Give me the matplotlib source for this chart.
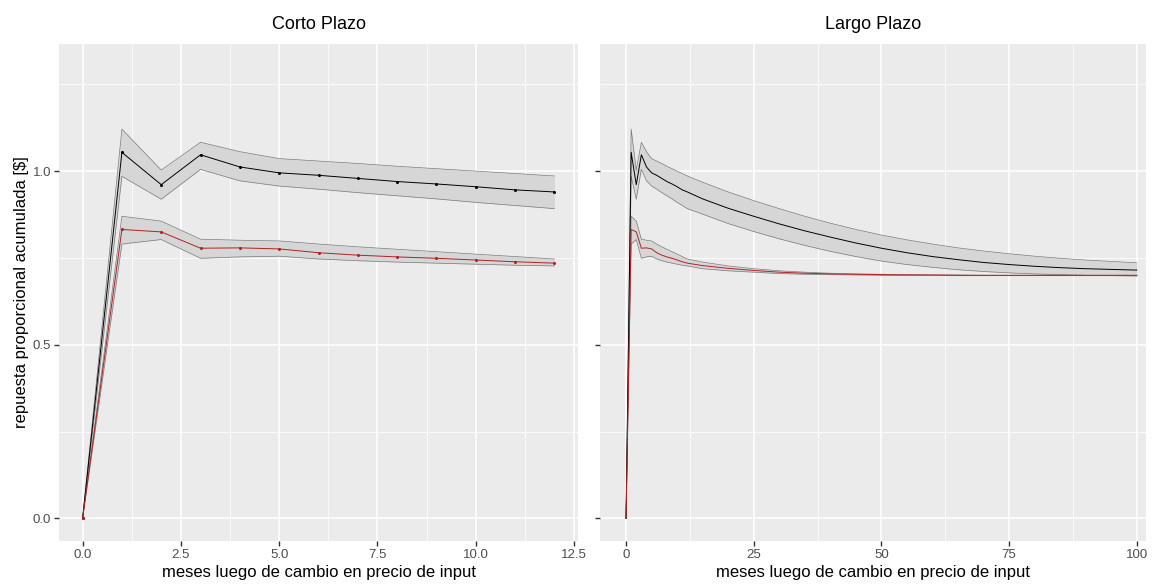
import matplotlib
matplotlib.use("Agg")
import matplotlib.pyplot as plt
from matplotlib.ticker import FixedLocator

plt.rcParams['font.family'] = ['Liberation Sans', 'DejaVu Sans']

# ---- Short-term panel data (monthly 0..12) ----
months_short = [0, 1, 2, 3, 4, 5, 6, 7, 8, 9, 10, 11, 12]
black_mid_s = [0.0, 1.054, 0.961, 1.047, 1.012, 0.995, 0.988, 0.979, 0.970, 0.963, 0.955, 0.946, 0.940]
black_hi_s = [0.0, 1.121, 1.003, 1.083, 1.056, 1.036, 1.029, 1.022, 1.014, 1.007, 1.000, 0.993, 0.986]
black_lo_s = [0.0, 0.985, 0.919, 1.005, 0.972, 0.957, 0.948, 0.938, 0.929, 0.920, 0.910, 0.901, 0.892]
red_mid_s = [0.0, 0.832, 0.825, 0.778, 0.779, 0.776, 0.765, 0.758, 0.753, 0.749, 0.744, 0.739, 0.735]
red_hi_s = [0.0, 0.870, 0.856, 0.804, 0.801, 0.799, 0.790, 0.782, 0.775, 0.768, 0.761, 0.754, 0.747]
red_lo_s = [0.0, 0.790, 0.803, 0.749, 0.753, 0.755, 0.747, 0.742, 0.738, 0.735, 0.732, 0.729, 0.727]

# ---- Long-term panel data (extension beyond month 12) ----
months_long_ext = [15, 20, 25, 30, 35, 40, 45, 50, 55, 60, 65, 70, 75, 80, 85, 90, 95, 100]
black_mid_ext = [0.920, 0.893, 0.870, 0.848, 0.828, 0.810, 0.793, 0.778, 0.765, 0.754, 0.745, 0.737, 0.731, 0.726, 0.722, 0.719, 0.717, 0.715]
black_hi_ext = [0.968, 0.940, 0.915, 0.892, 0.870, 0.850, 0.832, 0.816, 0.802, 0.790, 0.779, 0.770, 0.762, 0.755, 0.749, 0.744, 0.740, 0.736]
black_lo_ext = [0.876, 0.849, 0.826, 0.805, 0.786, 0.769, 0.754, 0.741, 0.731, 0.723, 0.716, 0.711, 0.707, 0.704, 0.702, 0.700, 0.699, 0.698]
red_mid_ext = [0.728, 0.720, 0.714, 0.709, 0.706, 0.704, 0.703, 0.702, 0.701, 0.701, 0.700, 0.700, 0.700, 0.700, 0.700, 0.700, 0.700, 0.700]
red_hi_ext = [0.738, 0.727, 0.719, 0.713, 0.709, 0.706, 0.704, 0.703, 0.702, 0.701, 0.701, 0.700, 0.700, 0.700, 0.700, 0.700, 0.700, 0.700]
red_lo_ext = [0.719, 0.713, 0.709, 0.705, 0.703, 0.702, 0.701, 0.700, 0.700, 0.700, 0.699, 0.699, 0.699, 0.699, 0.699, 0.699, 0.699, 0.699]

titles = ["Corto Plazo", "Largo Plazo"]
xlabel = "meses luego de cambio en precio de input"
ylabel = "repuesta proporcional acumulada [$]"

months_long = months_short + months_long_ext
black_mid_l = black_mid_s + black_mid_ext
black_hi_l = black_hi_s + black_hi_ext
black_lo_l = black_lo_s + black_lo_ext
red_mid_l = red_mid_s + red_mid_ext
red_hi_l = red_hi_s + red_hi_ext
red_lo_l = red_lo_s + red_lo_ext

W, H = 1155, 586
fig = plt.figure(figsize=(W / 100, H / 100), dpi=100)
fig.patch.set_facecolor('white')

def px_axes(x0, x1, y0, y1):
    return fig.add_axes([x0 / W, 1 - y1 / H, (x1 - x0) / W, (y1 - y0) / H])

ax1 = px_axes(59, 578, 44, 541)
ax2 = px_axes(600, 1146, 44, 541)

BG = '#EBEBEB'
RIB = '#D6D6D6'
EDGE = '#7A7A7A'
RED = '#B22222'

def style(ax, xmaj, xmin, xlim, labels_y):
    ax.set_facecolor(BG)
    for s in ax.spines.values():
        s.set_visible(False)
    ax.set_xlim(*xlim)
    ax.set_ylim(-0.065, 1.366)
    ax.xaxis.set_major_locator(FixedLocator(xmaj))
    ax.xaxis.set_minor_locator(FixedLocator(xmin))
    ax.yaxis.set_major_locator(FixedLocator([0.0, 0.5, 1.0]))
    ax.yaxis.set_minor_locator(FixedLocator([0.25, 0.75, 1.25]))
    ax.grid(which='major', color='white', linewidth=1.1)
    ax.grid(which='minor', color='white', linewidth=0.55)
    ax.set_axisbelow(True)
    ax.tick_params(which='major', length=3.5, width=1.0, color='#333333',
                   labelcolor='#4D4D4D', labelsize=9.5, pad=2)
    ax.tick_params(which='minor', length=0)
    if not labels_y:
        ax.tick_params(axis='y', labelleft=False)
    ax.set_xlabel(xlabel, fontsize=12, color='black', labelpad=3)

def draw(ax, x, bm, bh, bl, rm, rh, rl, markers):
    ax.fill_between(x, bl, bh, color=RIB, linewidth=0, zorder=2)
    ax.plot(x, bh, color=EDGE, lw=0.5, zorder=3)
    ax.plot(x, bl, color=EDGE, lw=0.5, zorder=3)
    ax.fill_between(x, rl, rh, color=RIB, linewidth=0, zorder=2)
    ax.plot(x, rh, color=EDGE, lw=0.5, zorder=3)
    ax.plot(x, rl, color=EDGE, lw=0.5, zorder=3)
    mk = 'o' if markers else None
    ax.plot(x, bm, color='black', lw=0.7, marker=mk, ms=1.2, zorder=4)
    ax.plot(x, rm, color=RED, lw=0.7, marker=mk, ms=1.2, zorder=4)

style(ax1, [0, 2.5, 5, 7.5, 10, 12.5], [1.25, 3.75, 6.25, 8.75, 11.25], (-0.6, 12.6), True)
ax1.set_xticklabels(['0.0', '2.5', '5.0', '7.5', '10.0', '12.5'])
ax1.set_yticklabels(['0.0', '0.5', '1.0'])
draw(ax1, months_short, black_mid_s, black_hi_s, black_lo_s, red_mid_s, red_hi_s, red_lo_s, True)
ax1.set_ylabel(ylabel, fontsize=12, color='black', labelpad=3)

style(ax2, [0, 25, 50, 75, 100], [12.5, 37.5, 62.5, 87.5], (-5.1, 101.8), False)
ax2.set_xticklabels(['0', '25', '50', '75', '100'])
draw(ax2, months_long, black_mid_l, black_hi_l, black_lo_l, red_mid_l, red_hi_l, red_lo_l, False)

for ax, t in zip([ax1, ax2], titles):
    ax.set_title(t, fontsize=13, color='black', pad=11)

fig.savefig('out.png', dpi=100, facecolor='white')
